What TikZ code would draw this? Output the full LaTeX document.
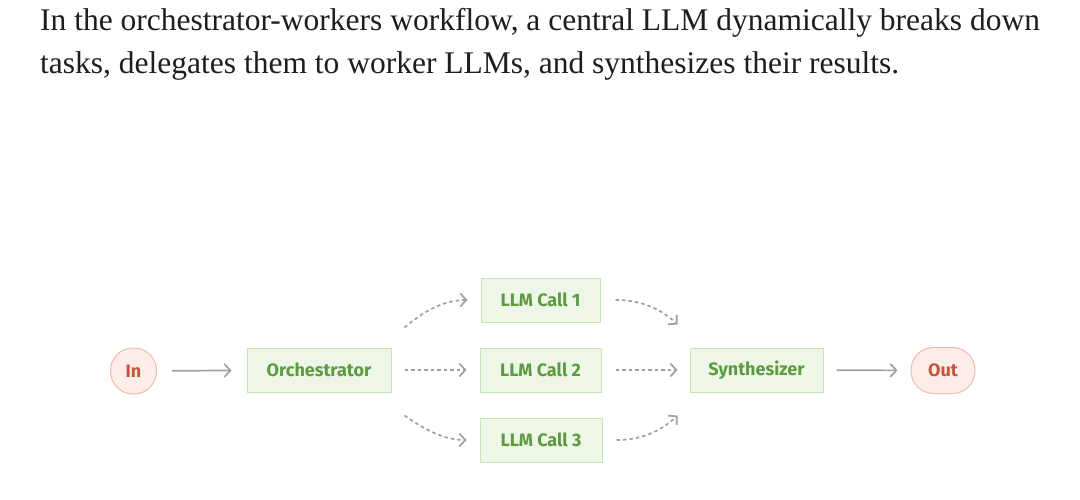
\documentclass[tikz,border=0pt]{standalone}
\usepackage{fontspec}
\setmainfont{Liberation Serif}
\newfontfamily\diagfont{Fira Sans}
\usetikzlibrary{arrows.meta,calc}
\definecolor{gfill}{HTML}{EEF6E8}
\definecolor{gdraw}{HTML}{C9E3B8}
\definecolor{gtext}{HTML}{5C9B3F}
\definecolor{pfill}{HTML}{FCEDE8}
\definecolor{pdraw}{HTML}{F0BBAA}
\definecolor{ptext}{HTML}{C0563C}
\definecolor{arr}{HTML}{A0A0A0}
\definecolor{bodytext}{HTML}{1E1E1E}
\begin{document}
\begin{tikzpicture}[x=1pt,y=-1pt,
  gbox/.style={draw=gdraw,fill=gfill,line width=1pt,text=gtext,font=\diagfont\bfseries\fontsize{18}{21}\selectfont,minimum height=44pt,inner sep=0pt},
  pbox/.style={draw=pdraw,fill=pfill,line width=1pt,text=ptext,font=\diagfont\bfseries\fontsize{18}{21}\selectfont,minimum height=46pt,rounded corners=22.5pt,inner sep=0pt},
  solidarr/.style={draw=arr,line width=1.7pt,-{Straight Barb[length=6pt,width=13pt,line width=1.7pt]}},
  dotarr/.style={draw=arr,line width=1.7pt,dash pattern=on 3.5pt off 3pt,-{Straight Barb[length=6pt,width=13pt,line width=1.7pt]}},
  capt/.style={anchor=base west,inner sep=0pt,text=bodytext,font=\fontsize{31.5}{36}\selectfont}
]
\path[use as bounding box,fill=white] (0,0) rectangle (1080,499);
\node[capt] (l1) at (40,30) {In the orchestrator-workers workflow, a central LLM dynamically breaks down};
\node[capt] (l2) at (40,73) {tasks, delegates them to worker LLMs, and synthesizes their results.};

\node[pbox,minimum width=46pt] (in) at (133.5,371) {In};
\node[gbox,minimum width=144pt] (orch) at (319,370) {Orchestrator};
\node[gbox,minimum width=119pt] (c1) at (540.5,300) {LLM Call 1};
\node[gbox,minimum width=121pt] (c2) at (540.5,370) {LLM Call 2};
\node[gbox,minimum width=122pt] (c3) at (541,440) {LLM Call 3};
\node[gbox,minimum width=133pt] (syn) at (756.5,370) {Synthesizer};
\node[pbox,minimum width=64pt] (out) at (943,370.5) {Out};

\draw[solidarr,shorten <=15pt,shorten >=15pt] (in) -- (orch);
\draw[solidarr,shorten <=13pt,shorten >=13pt] (syn) -- (out);
\draw[dotarr,shorten <=13pt,shorten >=13pt] (orch) -- (c2);
\draw[dotarr,shorten <=14pt,shorten >=12pt] (c2) -- (syn);

\coordinate (o1) at ($(orch.north east)+(13,-20)$);
\coordinate (o3) at ($(orch.south east)+(13,23)$);
\coordinate (s1) at ($(syn.north west)+(-12,-23)$);
\coordinate (s3) at ($(syn.south west)+(-12,23)$);
\draw[dotarr] (o1) .. controls (425,310) and (445,300) .. ($(c1.west)+(-13,0)$);
\draw[dotarr] (o3) .. controls (425,430) and (445,440) .. ($(c3.west)+(-13,0)$);
\draw[dotarr] ($(c1.east)+(15,0)$) .. controls (640,300) and (660,308) .. (s1);
\draw[dotarr] ($(c3.east)+(14,0)$) .. controls (640,440) and (660,432) .. (s3);
\end{tikzpicture}
\end{document}
